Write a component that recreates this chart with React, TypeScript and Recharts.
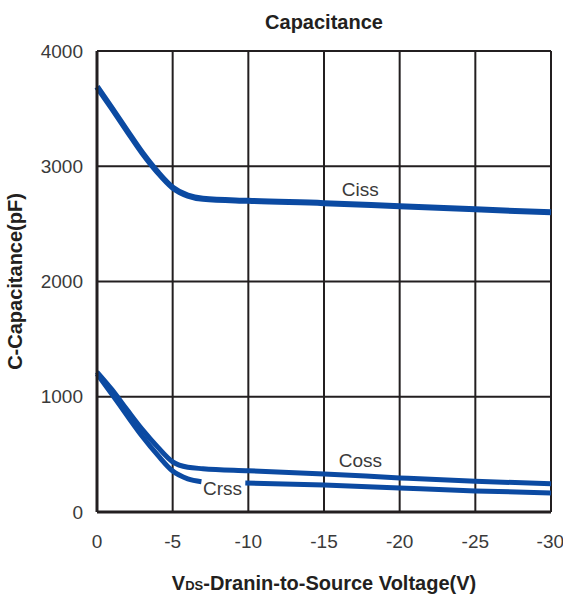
import React from "react";
import {
  CartesianGrid,
  Line,
  LineChart,
  ReferenceDot,
  XAxis,
  YAxis,
} from "recharts";

// values (pF vs VDS)
const CISS_V = [0, -1, -2, -3, -4, -5, -6, -7, -10, -15, -20, -25, -30];
const CISS_PF = [3690, 3500, 3305, 3115, 2950, 2815, 2745, 2718, 2700, 2680, 2652, 2626, 2600];

const COSS_V = [0, -1, -2, -3, -4, -5, -6, -7, -10, -15, -20, -25, -30];
const COSS_PF = [1215, 1060, 885, 715, 565, 435, 388, 376, 358, 330, 296, 266, 246];

// gap in Crss where its label sits
const CRSS_V = [0, -1, -2, -3, -4, -5, -6, -6.9, -8.3, -9.8, -15, -20, -25, -30];
const CRSS_PF = [1200, 1020, 835, 655, 495, 355, 288, 263, null, 252, 234, 208, 183, 165];

const X_TICKS = [0, -5, -10, -15, -20, -25, -30];
const Y_TICKS = [0, 1000, 2000, 3000, 4000];

const CURVE_LABELS = [
  { name: "Ciss", v: -17.4, pf: 2800 },
  { name: "Coss", v: -17.4, pf: 452 },
  { name: "Crss", v: -8.3, pf: 208 },
];

const BLUE = "#0b4aa2";
const FONT = '"Liberation Sans", Arial, Helvetica, sans-serif';

const toRows = (vs: number[], pfs: (number | null)[]) =>
  vs.map((v, i) => ({ v, pf: pfs[i] }));

const ciss = toRows(CISS_V, CISS_PF);
const coss = toRows(COSS_V, COSS_PF);
const crss = toRows(CRSS_V, CRSS_PF);

function XTitle(props: any) {
  const vb = props.viewBox || {};
  return (
    <text
      x={vb.x + vb.width / 2}
      y={vb.y + 78}
      textAnchor="middle"
      fontFamily={FONT}
      fontWeight="bold"
      fontSize={20}
      fill="#231f20"
    >
      V<tspan fontSize={13}>DS</tspan>-Dranin-to-Source Voltage(V)
    </text>
  );
}

function YTitle(props: any) {
  const vb = props.viewBox || {};
  const cx = vb.x + 15;
  const cy = vb.y + vb.height / 2;
  return (
    <text
      x={cx}
      y={cy}
      transform={`rotate(-90, ${cx}, ${cy})`}
      textAnchor="middle"
      dominantBaseline="central"
      fontFamily={FONT}
      fontWeight="bold"
      fontSize={20}
      fill="#231f20"
    >
      C-Capacitance(pF)
    </text>
  );
}

export default function App() {
  return (
    <div
      style={{
        position: "absolute",
        left: 0,
        top: 0,
        width: 563,
        height: 598,
        background: "#fff",
        fontFamily: FONT,
      }}
    >
      <div
        style={{
          position: "absolute",
          left: 97,
          width: 454,
          top: 12,
          textAlign: "center",
          fontWeight: "bold",
          fontSize: 20,
          lineHeight: "20px",
          color: "#231f20",
        }}
      >
        Capacitance
      </div>
      <LineChart
        width={563}
        height={598}
        margin={{ top: 51, right: 12, bottom: 0, left: 0 }}
      >
        <CartesianGrid stroke="#231f20" strokeWidth={2} />
        <XAxis
          dataKey="v"
          type="number"
          domain={[-30, 0]}
          reversed
          ticks={X_TICKS}
          height={86}
          axisLine={{ stroke: "#231f20", strokeWidth: 3 }}
          tickLine={false}
          tickMargin={17}
          tick={{ fill: "#3a3a3a", fontSize: 19, fontFamily: FONT }}
          label={<XTitle />}
        />
        <YAxis
          type="number"
          domain={[0, 4000]}
          ticks={Y_TICKS}
          width={97}
          axisLine={{ stroke: "#231f20", strokeWidth: 3 }}
          tickLine={false}
          tickMargin={8}
          tick={{ fill: "#3a3a3a", fontSize: 19, fontFamily: FONT }}
          label={<YTitle />}
        />
        <Line
          data={ciss}
          dataKey="pf"
          type="monotone"
          stroke={BLUE}
          strokeWidth={6}
          dot={false}
          activeDot={false}
          isAnimationActive={false}
        />
        <Line
          data={coss}
          dataKey="pf"
          type="monotone"
          stroke={BLUE}
          strokeWidth={5}
          dot={false}
          activeDot={false}
          isAnimationActive={false}
        />
        <Line
          data={crss}
          dataKey="pf"
          type="monotone"
          stroke={BLUE}
          strokeWidth={5}
          dot={false}
          activeDot={false}
          connectNulls={false}
          isAnimationActive={false}
        />
        {CURVE_LABELS.map((l) => (
          <ReferenceDot
            key={l.name}
            x={l.v}
            y={l.pf}
            r={0}
            fill="none"
            stroke="none"
            label={{
              value: l.name,
              position: "center",
              fill: "#3a3a3a",
              fontSize: 19,
              fontFamily: FONT,
            }}
          />
        ))}
      </LineChart>
    </div>
  );
}
